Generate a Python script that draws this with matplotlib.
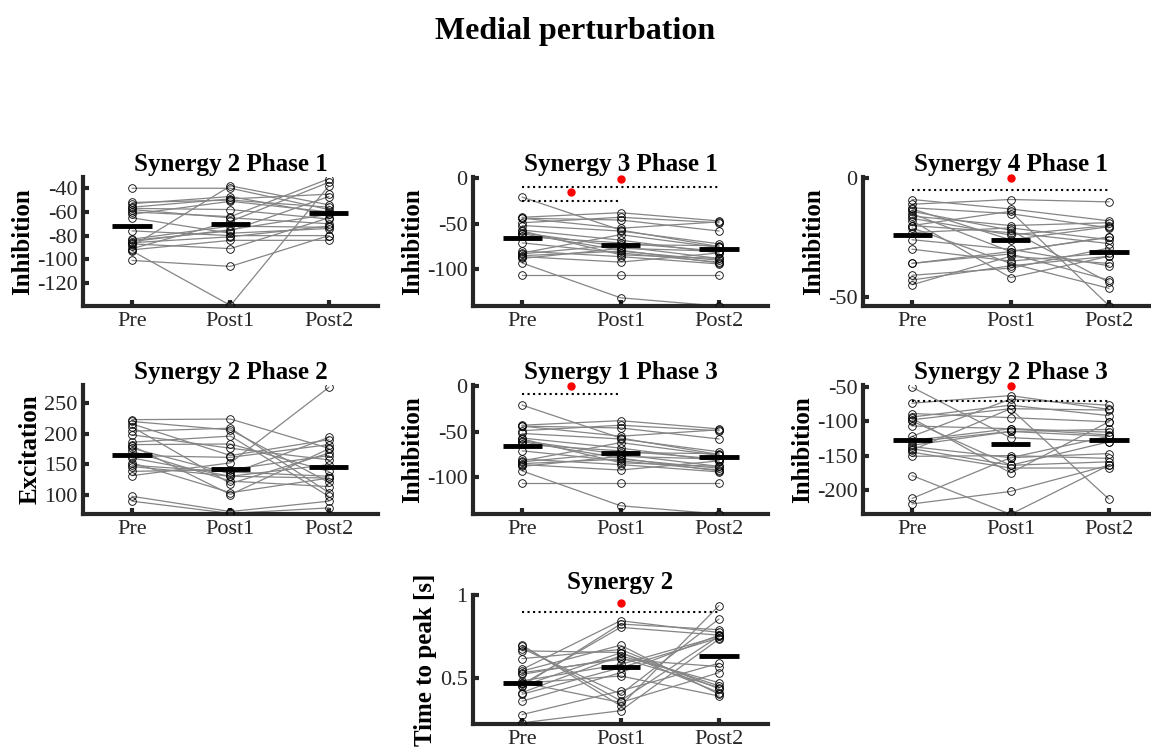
import numpy as np
import matplotlib
matplotlib.use("Agg")
import matplotlib.pyplot as plt

plt.rcParams['font.family'] = ['Liberation Serif', 'DejaVu Serif']
plt.rcParams['axes.unicode_minus'] = False

conditions = ["Pre", "Post1", "Post2"]

# per-subject values (pre, post1, post2), 20 subjects each
s2p1_pre = [-40, -52, -53, -57, -58, -62, -65, -76, -83, -84, -87, -89, -92, -93, -101, -56, -86, -91, -85, -60]
s2p1_post1 = [-40, -50, -47, -58, -65, -51, -78, -80, -72, -76, -91, -38, -84, -139, -106, -49, -81, -68, -75, -64]
s2p1_post2 = [-58, -56, -62, -66, -70, -60, -74, -80, -73, -47, -65, -54, -84, -38, -80, -45, -72, -35, -62, -32]
s2p1_mean = [-72.3, -70.6, -61.0]

s3p1_pre = [-21, -43, -44, -44, -49, -52, -57, -60, -61, -64, -71, -80, -82, -85, -86, -88, -93, -106, -58, -83]
s3p1_post1 = [-57, -38, -46, -55, -43, -58, -68, -75, -79, -71, -82, -86, -62, -80, -92, -77, -131, -106, -84, -73]
s3p1_post2 = [-75, -47, -58, -48, -49, -72, -82, -88, -93, -80, -92, -94, -76, -90, -82, -80, -140, -106, -88, -74]
s3p1_mean = [-65.6, -73.6, -77.3]

s4p1_pre = [-9, -11, -12.5, -14, -15, -16, -18, -20, -21, -26, -30, -36, -41, -43, -45, -13, -20, -36, -23, -17]
s4p1_post1 = [-13, -9, -15, -22, -31, -20, -42, -23, -36, -30, -35, -31, -38, -37, -33, -26, -14, -32, -21, -24]
s4p1_post2 = [-18, -10, -21, -44, -25, -18.8, -33, -27.6, -46.5, -37, -31.6, -24.8, -29.5, -33, -36, -20.5, -53.8, -43, -26, -20]
s4p1_mean = [-24.2, -26.0, -31.0]

s2p2_pre = [223, 220, 216, 211, 204, 198, 186, 182, 176, 171, 164, 152, 146, 138, 131, 97, 89, 180, 160, 148]
s2p2_post1 = [224, 206, 164, 118, 209, 176, 196, 183, 134, 122, 161, 103, 130, 141, 152, 72, 69, 100, 130, 137]
s2p2_post2 = [176, 120, 190, 168, 103, 157, 97, 138, 194, 113, 182, 127, 149, 164, 276, 89, 78, 175, 127, 130]
s2p2_mean = [165.4, 142.0, 146.0]

s1p3_pre = [-21, -43, -44, -44, -49, -52, -57, -60, -61, -64, -71, -80, -82, -85, -86, -88, -93, -106, -58, -83]
s1p3_post1 = [-57, -38, -46, -55, -43, -58, -68, -75, -79, -71, -82, -86, -62, -80, -92, -77, -131, -106, -84, -73]
s1p3_post2 = [-75, -47, -58, -48, -49, -72, -82, -88, -93, -80, -92, -94, -76, -90, -82, -80, -140, -106, -88, -74]
s1p3_mean = [-65.6, -73.6, -77.3]

s2p3_pre = [-51, -74, -89, -94, -98, -107, -122, -130, -137, -140, -145, -151, -179, -212, -220, -96, -135, -142, -100, -128]
s2p3_post1 = [-124, -63, -95, -77, -82, -111, -68, -115, -153, -164, -168, -150, -235, -153, -202, -175, -115, -82, -164, -111]
s2p3_post2 = [-130, -83, -101, -92, -213, -116, -77, -122, -147, -159, -168, -154, -164, -122, -164, -101, -112, -84, -130, -120]
s2p3_mean = [-127.9, -132.7, -127.9]

ttp_pre = [0.696, 0.676, 0.662, 0.615, 0.55, 0.53, 0.48, 0.466, 0.45, 0.41, 0.358, 0.277, 0.227, 0.54, 0.46, 0.47, 0.69, 0.45, 0.52, 0.40]
ttp_post1 = [0.33, 0.40, 0.652, 0.67, 0.844, 0.611, 0.58, 0.51, 0.824, 0.632, 0.53, 0.42, 0.30, 0.696, 0.804, 0.35, 0.36, 0.65, 0.62, 0.56]
ttp_post2 = [0.935, 0.854, 0.41, 0.433, 0.773, 0.567, 0.749, 0.389, 0.79, 0.47, 0.757, 0.587, 0.733, 0.40, 0.757, 0.53, 0.75, 0.45, 0.44, 0.74]
ttp_mean = [0.466, 0.567, 0.632]

# significance: (from, to, line y, star y)
s3p1_sig = [(1, 3, -10.3, -0.7), (1, 2, -25.0, -15.4)]
s4p1_sig = [(1, 3, -5.0, 0.0)]
s1p3_sig = [(1, 2, -9.0, 0.0)]
s2p3_sig = [(1, 3, -70.2, -49.5)]
ttp_sig = [(1, 3, 0.899, 0.95)]

AXCOL = '#262626'


def panel(rect, title, ylabel, pre, post1, post2, means, ylim, yticks, sig=None, yticklabels=None):
    ax = fig.add_axes(rect)
    data = np.array([pre, post1, post2])
    x = np.array([1, 2, 3])
    for i in range(data.shape[1]):
        ax.plot(x, data[:, i], color='#858585', lw=0.9, zorder=2)
        ax.plot(x, data[:, i], 'o', ms=5.5, mfc='none', mec='black', mew=0.6, zorder=3)
    for k in range(3):
        ax.plot([x[k] - 0.2, x[k] + 0.2], [means[k], means[k]], color='black', lw=3.5,
                solid_capstyle='butt', zorder=4)
    if sig:
        for (a, b, ly, sy) in sig:
            ax.plot([a, b], [ly, ly], color='black', ls=':', lw=1.5, zorder=4)
            ax.plot((a + b) / 2.0, sy, 'o', color='red', ms=5, zorder=5, clip_on=False)

    ax.set_xlim(0.5, 3.5)
    ax.set_ylim(ylim)
    ax.set_xticks(x)
    ax.set_xticklabels(conditions)
    ax.set_yticks(yticks)
    if yticklabels:
        ax.set_yticklabels(yticklabels)
    for side in ['top', 'right']:
        ax.spines[side].set_visible(False)
    for side in ['left', 'bottom']:
        ax.spines[side].set_linewidth(3)
        ax.spines[side].set_color(AXCOL)
    ax.tick_params(direction='in', length=4, width=3, color=AXCOL, labelsize=16,
                   labelcolor=AXCOL, pad=4)
    ax.set_title(title, fontsize=18, fontweight='bold', pad=4)
    ax.set_ylabel(ylabel, fontsize=18, fontweight='bold', labelpad=2)
    ax.patch.set_alpha(0)
    return ax


fig = plt.figure(figsize=(11.51, 7.51), dpi=100)

W = 0.2563
H = 0.1718
cols = [0.0721, 0.4110, 0.7498]
rows = [0.5925, 0.3156, 0.0360]

panel([cols[0], rows[0], W, H], "Synergy 2 Phase 1", "Inhibition",
      s2p1_pre, s2p1_post1, s2p1_post2, s2p1_mean, (-139.5, -30.5), [-120, -100, -80, -60, -40])
panel([cols[1], rows[0], W, H], "Synergy 3 Phase 1", "Inhibition",
      s3p1_pre, s3p1_post1, s3p1_post2, s3p1_mean, (-140, 1), [-100, -50, 0], s3p1_sig)
panel([cols[2], rows[0], W, H], "Synergy 4 Phase 1", "Inhibition",
      s4p1_pre, s4p1_post1, s4p1_post2, s4p1_mean, (-54, 0.5), [-50, 0], s4p1_sig)
panel([cols[0], rows[1], W, H], "Synergy 2 Phase 2", "Excitation",
      s2p2_pre, s2p2_post1, s2p2_post2, s2p2_mean, (68, 280), [100, 150, 200, 250])
panel([cols[1], rows[1], W, H], "Synergy 1 Phase 3", "Inhibition",
      s1p3_pre, s1p3_post1, s1p3_post2, s1p3_mean, (-140, 1), [-100, -50, 0], s1p3_sig)
panel([cols[2], rows[1], W, H], "Synergy 2 Phase 3", "Inhibition",
      s2p3_pre, s2p3_post1, s2p3_post2, s2p3_mean, (-234.6, -47.6), [-200, -150, -100, -50], s2p3_sig)
panel([cols[1], rows[2], W, H], "Synergy 2", "Time to peak [s]",
      ttp_pre, ttp_post1, ttp_post2, ttp_mean, (0.22, 1.0), [0.5, 1.0], ttp_sig, ["0.5", "1"])

fig.suptitle("Medial perturbation", fontsize=23, fontweight='bold', y=0.977)

fig.savefig("out.png", dpi=100)
